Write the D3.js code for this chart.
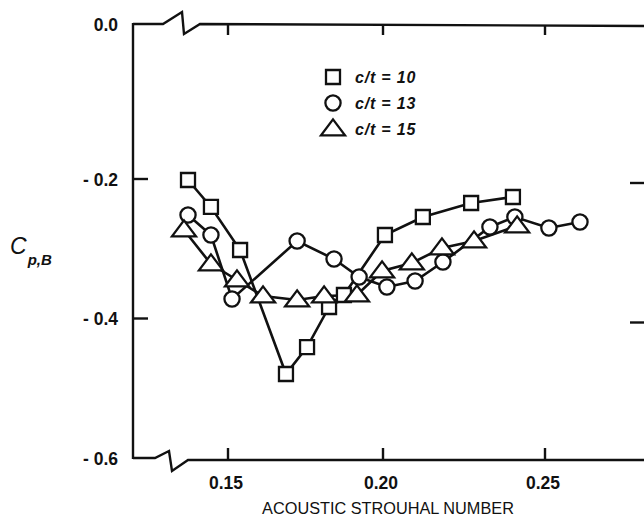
<!DOCTYPE html>
<html>
<head>
<meta charset="utf-8">
<script src="https://cdn.jsdelivr.net/npm/d3@7/dist/d3.min.js"></script>
<style>
  html, body { margin: 0; padding: 0; background: #fff; }
  svg { display: block; }
</style>
</head>
<body>
<svg id="chart" width="644" height="522"></svg>
<script>
// ---- data ----
const seriesNames = ["c/t = 10", "c/t = 13", "c/t = 15"];
const markerKinds = ["square", "circle", "triangle"];

const x10 = [0.1371, 0.1445, 0.1539, 0.1687, 0.1755, 0.1826, 0.1874, 0.2006, 0.2123, 0.2272, 0.2401];
const y10 = [-0.2014, -0.2401, -0.3018, -0.4796, -0.4409, -0.3835, -0.3663, -0.2803, -0.2545, -0.2344, -0.2258];

const x13 = [0.1371, 0.1445, 0.1513, 0.1723, 0.1842, 0.1923, 0.2012, 0.2099, 0.2185, 0.2330, 0.2407, 0.2512, 0.2608];
const y13 = [-0.2516, -0.2803, -0.3720, -0.2889, -0.3147, -0.3405, -0.3548, -0.3462, -0.3190, -0.2688, -0.2545, -0.2703, -0.2616];

const x15 = [0.1358, 0.1445, 0.1529, 0.1613, 0.1723, 0.1810, 0.1916, 0.1997, 0.2089, 0.2182, 0.2281, 0.2414];
const y15 = [-0.2731, -0.3219, -0.3448, -0.3677, -0.3735, -0.3677, -0.3663, -0.3319, -0.3204, -0.2989, -0.2889, -0.2674];

const xTicks = [0.15, 0.20, 0.25];
const xTickLabels = ["0.15", "0.20", "0.25"];
const yTicks = [0.0, -0.2, -0.4, -0.6];
const yTickLabels = ["0.0", "- 0.2", "- 0.4", "- 0.6"];
const xTitle = "ACOUSTIC STROUHAL NUMBER";

// ---- layout ----
const frame = { left: 133, top: 24, right: 647, bottom: 458 };
const svg = d3.select("#chart");

const x = d3.scaleLinear().domain([0.15, 0.20, 0.25]).range([228, 383, 545]);
const y = d3.scaleLinear().domain([-0.6, -0.2, 0.0]).range([458, 179, 24]);

const ink = "#111";
const sw = 2.4;
const font = "'Liberation Sans', Arial, Helvetica, sans-serif";

// frame with axis-break glyphs
const g = svg.append("g").attr("fill", "none").attr("stroke", ink).attr("stroke-width", sw)
  .attr("stroke-linejoin", "miter");

g.append("line").attr("x1", frame.left).attr("x2", frame.left).attr("y1", frame.top - 1).attr("y2", frame.bottom + 1);
const tb = frame.left + 30;
g.append("path").attr("d", d3.line()([
  [frame.left, frame.top], [tb, frame.top], [tb + 19, frame.top - 12], [tb + 21, frame.top + 10], [tb + 37, frame.top], [frame.right, frame.top + 2]
]));
const bb = frame.left + 22;
g.append("path").attr("d", d3.line()([
  [frame.left, frame.bottom], [bb, frame.bottom], [bb + 14, frame.bottom - 7], [bb + 17, frame.bottom + 13], [bb + 33, frame.bottom + 2], [frame.right, frame.bottom + 2]
]));

xTicks.forEach(t => {
  g.append("line").attr("x1", x(t)).attr("x2", x(t)).attr("y1", frame.bottom + 1).attr("y2", frame.bottom - 10);
  g.append("line").attr("x1", x(t)).attr("x2", x(t)).attr("y1", frame.top + 1).attr("y2", frame.top + 11);
});
yTicks.filter(t => t !== 0 && t !== -0.6).forEach(t => {
  g.append("line").attr("x1", frame.left).attr("x2", frame.left + 15).attr("y1", y(t)).attr("y2", y(t));
  g.append("line").attr("x1", frame.right).attr("x2", frame.right - 17).attr("y1", y(t) + 4).attr("y2", y(t) + 4);
});

// tick labels
const lbl = svg.append("g").attr("font-family", font).attr("font-weight", "bold").attr("font-size", 17.5).attr("fill", ink);
xTicks.forEach((t, i) => {
  lbl.append("text").attr("x", x(t) - 2).attr("y", 489).attr("text-anchor", "middle").text(xTickLabels[i]);
});
yTicks.forEach((t, i) => {
  lbl.append("text").attr("x", 118).attr("y", y(t) + 6.5).attr("text-anchor", "end").text(yTickLabels[i]);
});

// axis titles
svg.append("text").attr("x", 388).attr("y", 514).attr("text-anchor", "middle")
  .attr("font-family", font).attr("font-size", 16.3).attr("fill", ink).text(xTitle);
const yt = svg.append("text").attr("x", 10).attr("y", 254).attr("font-family", font).attr("fill", ink).attr("font-style", "italic");
yt.append("tspan").attr("font-size", 23).text("C");
yt.append("tspan").attr("font-size", 15).attr("font-weight", "bold").attr("dy", 11).attr("dx", 1).text("p,B");

// markers
function drawMarker(sel, kind, cx, cy) {
  const m = sel.append("path").attr("fill", "#fff").attr("stroke", ink).attr("stroke-width", 2.3);
  if (kind === "square") {
    const s = 14;
    m.attr("d", `M${cx - s/2},${cy - s/2}h${s}v${s}h${-s}Z`);
  } else if (kind === "circle") {
    const r = 7.6;
    m.attr("d", d3.arc()({ innerRadius: 0, outerRadius: r, startAngle: 0, endAngle: 2 * Math.PI }))
     .attr("transform", `translate(${cx},${cy})`);
  } else {
    const w = 24, h = 16;
    m.attr("d", `M${cx},${cy - h * 0.6}L${cx + w/2},${cy + h * 0.4}L${cx - w/2},${cy + h * 0.4}Z`);
  }
}

const series = [[x10, y10], [x13, y13], [x15, y15]];
const line = d3.line().x(d => x(d[0])).y(d => y(d[1]));
const plot = svg.append("g");
series.forEach(([xs, ys]) => {
  const pts = xs.map((v, i) => [v, ys[i]]);
  plot.append("path").attr("d", line(pts)).attr("fill", "none").attr("stroke", ink).attr("stroke-width", 2.6);
});
series.forEach(([xs, ys], k) => {
  xs.forEach((v, i) => drawMarker(plot, markerKinds[k], x(v), y(ys[i])));
});

// legend
const leg = svg.append("g");
seriesNames.forEach((name, i) => {
  const ly = 77 + i * 26;
  drawMarker(leg, markerKinds[i], 333, ly);
  leg.append("text").attr("x", 355).attr("y", ly + 5.5).attr("font-family", font).attr("font-style", "italic")
    .attr("font-weight", "bold").attr("font-size", 16).attr("letter-spacing", 0.8).attr("fill", ink).text(name);
});
</script>
</body>
</html>
